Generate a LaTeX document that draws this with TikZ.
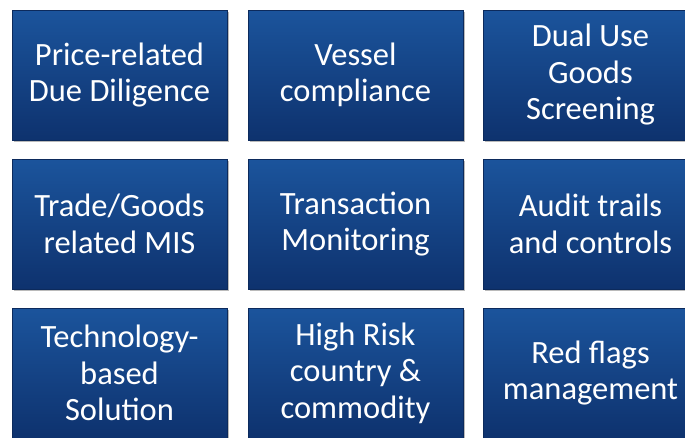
\documentclass[tikz,border=0pt]{standalone}
\usepackage{fontspec}
\setmainfont{Carlito}
\usetikzlibrary{shadows}
\definecolor{boxtop}{RGB}{27,84,156}
\definecolor{boxbot}{RGB}{14,50,110}
\definecolor{boxedge}{RGB}{12,42,92}
\tikzset{
  tile/.style={rectangle, minimum width=215pt, minimum height=130pt,
    top color=boxtop, bottom color=boxbot, draw=boxedge, line width=0.6pt,
    text=white, align=center, inner sep=0pt,
    font=\fontsize{32.5}{36.5}\selectfont,
    drop shadow={shadow xshift=1.5pt, shadow yshift=-1.8pt, opacity=0.45, fill=black!60}}
}
\begin{document}
\begin{tikzpicture}[x=1pt,y=-1pt]
\useasboundingbox (0,0) rectangle (685,437);
\clip (0,0) rectangle (685,437);
\node[tile] (a1) at (119.5,75) {Price-related\\Due Diligence};
\node[tile] (a2) at (355.5,75) {Vessel\\compliance};
\node[tile] (a3) at (590.5,75) {Dual Use\\Goods\\Screening};
\node[tile] (b1) at (119.5,224) {Trade/Goods\\related MIS};
\node[tile] (b2) at (355.5,224) {Transaction\\Monitoring};
\node[tile] (b3) at (590.5,224) {Audit trails\\and controls};
\node[tile] (c1) at (119.5,373) {Technology-\\based\\Solution};
\node[tile] (c2) at (355.5,373) {High Risk\\country \&\\commodity};
\node[tile] (c3) at (590.5,373) {Red flags\\management};
\end{tikzpicture}
\end{document}
